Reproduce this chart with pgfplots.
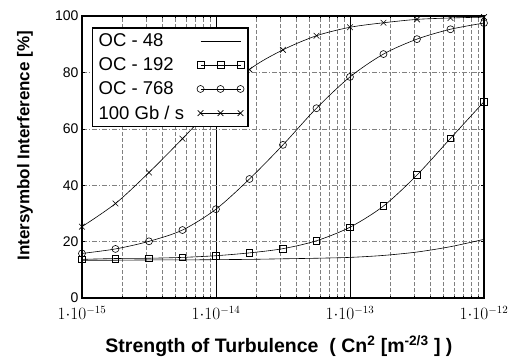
\documentclass[border=0pt]{standalone}
\usepackage{pgfplots}
\pgfplotsset{compat=1.18}
\usepackage{fontspec}
\setmainfont{Liberation Sans}
\begin{document}
\begin{tikzpicture}
\path[use as bounding box] (-82pt,-61pt) rectangle (435pt,298pt);
\begin{axis}[
  at={(0pt,0pt)}, anchor=south west,
  scale only axis, width=402pt, height=282pt,
  xmode=log, log basis x=10,
  xmin=1e-15, xmax=1e-12, ymin=0, ymax=100,
  xtick={1e-15,1e-14,1e-13,1e-12},
  xticklabels={${1{\cdot}10^{-15}}$,${1{\cdot}10^{-14}}$,${1{\cdot}10^{-13}}$,${1{\cdot}10^{-12}}$},
  minor xtick={2e-15,3e-15,4e-15,5e-15,6e-15,7e-15,8e-15,9e-15,
               2e-14,3e-14,4e-14,5e-14,6e-14,7e-14,8e-14,9e-14,
               2e-13,3e-13,4e-13,5e-13,6e-13,7e-13,8e-13,9e-13},
  ytick={0,20,40,60,80,100},
  /pgf/number format/assume math mode=true,
  yticklabel style={font=\fontsize{14}{16}\selectfont},
  xticklabel style={font=\fontsize{16}{18}\selectfont, yshift=-5pt},
  xmajorgrids, xminorgrids, ymajorgrids,
  major x grid style={black, line width=0.8pt},
  minor x grid style={gray, line width=0.5pt, dash pattern=on 4pt off 2pt},
  major y grid style={gray, line width=0.5pt, dash pattern=on 5pt off 2pt on 1pt off 2pt},
  axis line style={line width=1.3pt},
  tick style={black, line width=0.5pt},
  major tick length=3pt, minor tick length=2pt,
  clip mode=individual,
  xlabel={\textbf{Strength of Turbulence \ ( Cn\textsuperscript{2} [m\textsuperscript{-2/3} ] )}},
  ylabel={\textbf{Intersymbol Interference [\%]}},
  xlabel style={font=\fontsize{19.5}{22}\selectfont, at={(axis description cs:0.49,-0.195)}, anchor=base},
  ylabel style={font=\fontsize{17}{20}\selectfont, at={(axis description cs:-0.142,0.54)}, anchor=center},
  legend plot pos=right,
  legend cell align=left,
  legend image code/.code={\draw[#1] plot coordinates {(0pt,0pt) (20pt,0pt) (40pt,0pt)};},
  legend style={at={(axis description cs:0.025,0.96)}, anchor=north west,
    font=\fontsize{18.5}{21}\selectfont, draw=black, line width=1.3pt, fill=white,
    row sep=5.5pt, column sep=11pt, inner xsep=4pt, inner ysep=4pt,
    nodes={line width=0.6pt}},
  every axis plot/.append style={black, line width=0.6pt, smooth, tension=0.5},
]
\addplot[no marks] coordinates {
(1e-15,13.4) (1.778e-15,13.4) (3.162e-15,13.5) (5.623e-15,13.5) (1e-14,13.6)
(1.778e-14,13.7) (3.162e-14,13.9) (5.623e-14,14.1) (1e-13,14.4)
(1.778e-13,15.1) (3.162e-13,16.3) (5.623e-13,18.2) (1e-12,20.8)};
\addlegendentry{OC - 48}
\addplot[mark=square, mark size=3.3pt, mark options={solid, line width=0.6pt}] coordinates {
(1e-15,13.7) (1.778e-15,14.0) (3.162e-15,14.1) (5.623e-15,14.4) (1e-14,15.0)
(1.778e-14,16.0) (3.162e-14,17.5) (5.623e-14,20.3) (1e-13,25.1)
(1.778e-13,32.6) (3.162e-13,43.6) (5.623e-13,56.6) (1e-12,69.6)};
\addlegendentry{OC - 192}
\addplot[mark=o, mark size=3.5pt, mark options={solid, line width=0.6pt}] coordinates {
(1e-15,15.8) (1.778e-15,17.4) (3.162e-15,20.1) (5.623e-15,24.1) (1e-14,31.5)
(1.778e-14,42.2) (3.162e-14,54.3) (5.623e-14,67.3) (1e-13,78.4)
(1.778e-13,86.5) (3.162e-13,91.8) (5.623e-13,95.3) (1e-12,97.5)};
\addlegendentry{OC - 768}
\addplot[mark=x, mark size=4pt, mark options={solid, line width=0.6pt}] coordinates {
(1e-15,25.3) (1.778e-15,33.5) (3.162e-15,44.5) (5.623e-15,56.5) (1e-14,69.0)
(1.778e-14,81.0) (3.162e-14,88.0) (5.623e-14,93.0) (1e-13,96.0)
(1.778e-13,97.6) (3.162e-13,98.8) (5.623e-13,99.3) (1e-12,99.6)};
\addlegendentry{100 Gb / s}
\end{axis}
\end{tikzpicture}
\end{document}
